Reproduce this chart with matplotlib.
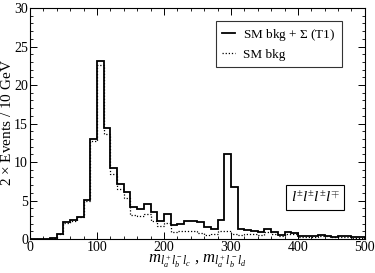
import numpy as np
import matplotlib
matplotlib.use("Agg")
import matplotlib.pyplot as plt
from matplotlib.ticker import MultipleLocator

plt.rcParams['font.family'] = ['Liberation Serif', 'DejaVu Serif']
plt.rcParams['mathtext.fontset'] = 'custom'
plt.rcParams['mathtext.rm'] = 'Liberation Serif'
plt.rcParams['mathtext.it'] = 'Liberation Serif:italic'

bin_edges = np.arange(0, 510, 10)

sm_plus_signal = [0, 0, 0.05, 0.15, 0.65, 2.2, 2.5, 2.9, 5.1, 13.0,
                  23.1, 14.4, 9.2, 7.2, 6.1, 4.1, 3.9, 4.5, 3.5, 2.3,
                  3.2, 1.8, 2.0, 2.3, 2.4, 2.2, 1.6, 1.3, 2.45, 11.0,
                  6.8, 1.35, 1.2, 1.05, 0.9, 1.25, 0.9, 0.5, 0.9, 0.75,
                  0.35, 0.35, 0.35, 0.5, 0.45, 0.3, 0.4, 0.4, 0.2, 0.2]

sm_bkg = [0, 0, 0.05, 0.1, 0.6, 2.1, 2.4, 2.8, 4.9, 12.7,
          22.6, 13.7, 8.5, 6.5, 5.3, 3.1, 3.0, 3.2, 2.3, 1.7,
          2.1, 0.95, 1.05, 1.0, 1.1, 0.8, 0.5, 0.6, 1.0, 1.1,
          0.6, 0.5, 0.6, 0.6, 0.5, 0.9, 0.6, 0.4, 0.7, 0.6,
          0.3, 0.3, 0.3, 0.4, 0.35, 0.25, 0.3, 0.3, 0.15, 0.15]

fig = plt.figure(figsize=(3.75, 2.73), dpi=100)
ax = fig.add_axes([0.08, 0.1245, 0.893, 0.846])

ax.stairs(sm_plus_signal, bin_edges, color='black', lw=1.3,
          label=r'SM bkg + $\Sigma$ (T1)')
ax.stairs(sm_bkg, bin_edges, color='black', lw=0.9, linestyle=(0, (1, 1.5)),
          label='SM bkg')

ax.set_xlim(0, 500)
ax.set_ylim(0, 30)
ax.xaxis.set_major_locator(MultipleLocator(100))
ax.xaxis.set_minor_locator(MultipleLocator(20))
ax.yaxis.set_major_locator(MultipleLocator(5))
ax.yaxis.set_minor_locator(MultipleLocator(1))
ax.tick_params(which='both', direction='in', top=True, right=True, labelsize=10, pad=1.5)
ax.tick_params(which='major', length=5, width=0.7)
ax.tick_params(which='minor', length=2.5, width=0.6)
for s in ax.spines.values():
    s.set_linewidth(0.8)

fig.text(0.0, 0.55, r'2 $\times$ Events / 10 GeV', rotation=90, fontsize=11,
         ha='left', va='center')
ax.set_xlabel(r'$m_{l_a^+ l_b^- l_c}$ , $m_{l_a^+ l_b^- l_d}$', fontsize=12, labelpad=-1)

leg = ax.legend(loc='upper right', bbox_to_anchor=(0.931, 0.944), borderaxespad=0,
                fontsize=9.5, frameon=True, fancybox=False, edgecolor='black',
                handlelength=1.0, handletextpad=0.6, borderpad=0.45, labelspacing=0.45)
leg.get_frame().set_linewidth(0.8)

ax.text(0.925, 0.18, r'$l^{\pm}l^{\pm}l^{\pm}l^{\mp}$', transform=ax.transAxes,
        ha='right', va='center', fontsize=11,
        bbox=dict(boxstyle='square,pad=0.3', fc='white', ec='black', lw=0.8))

fig.savefig('out.png', dpi=100)
